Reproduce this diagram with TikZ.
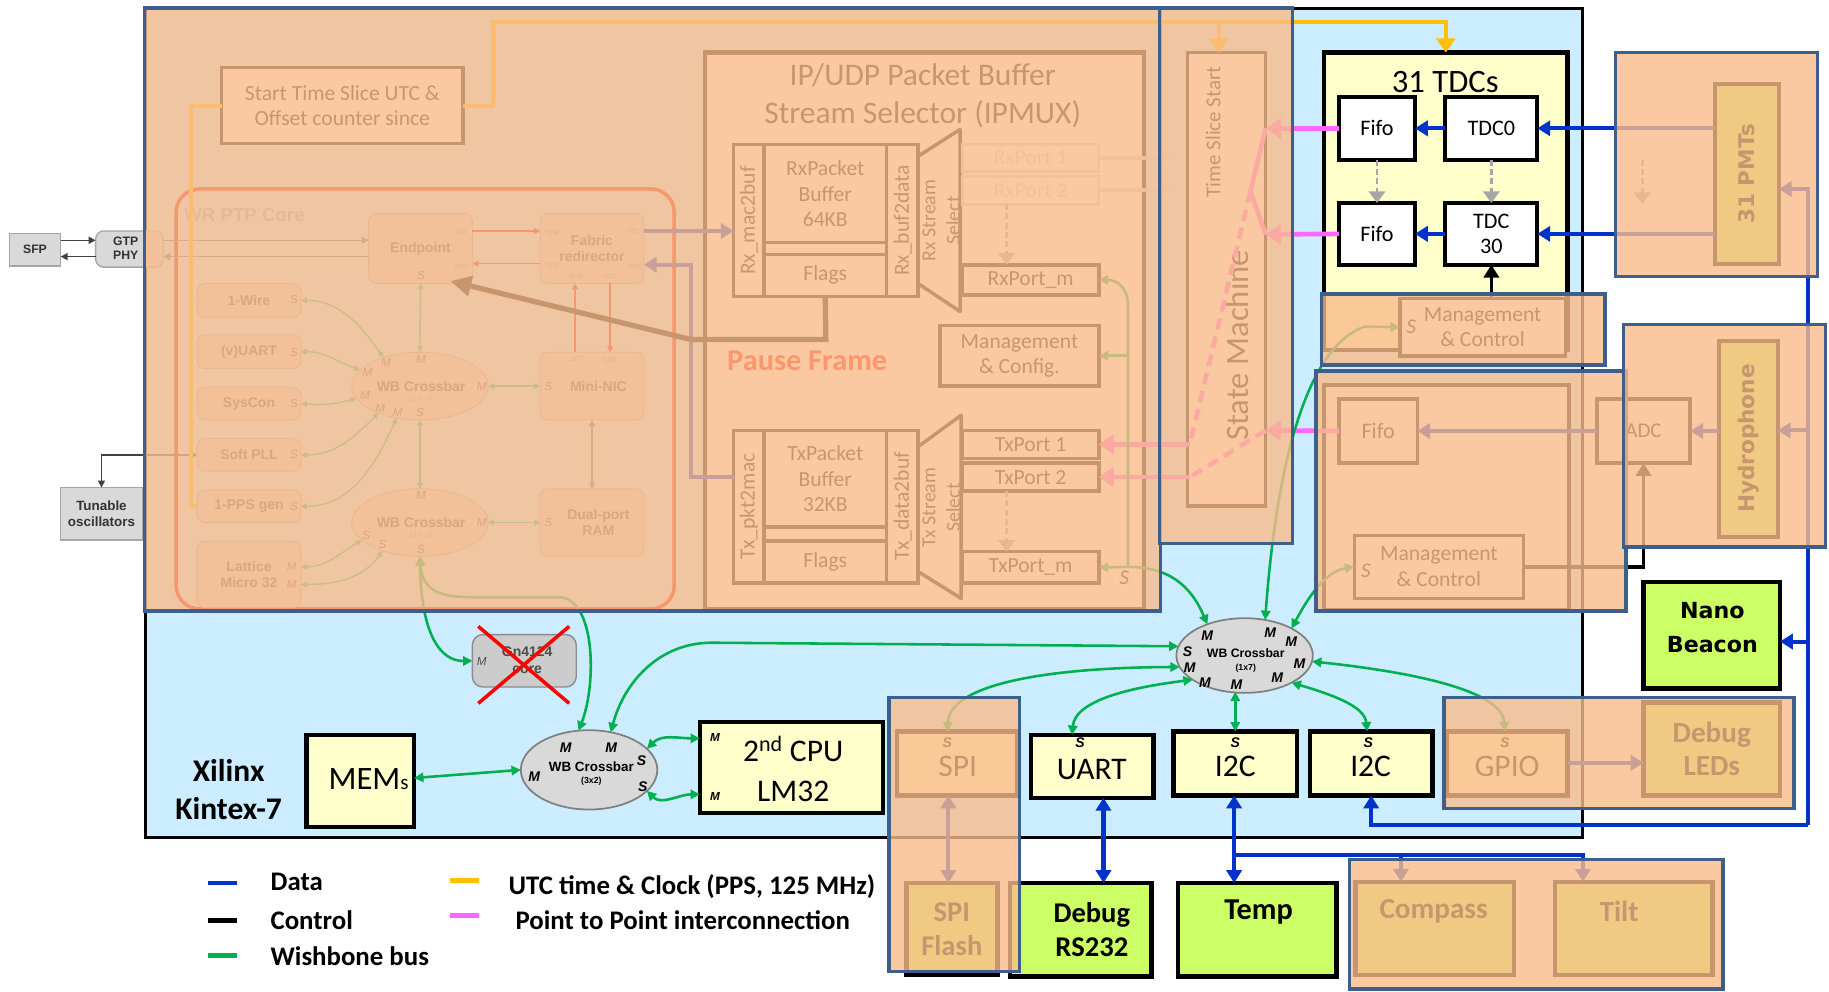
\documentclass[tikz,border=0pt]{standalone}
\usepackage{fontspec}
\setmainfont{Carlito}
\newfontfamily\arl{Liberation Sans}
\newfontfamily\dvs{DejaVu Sans}
\usetikzlibrary{arrows.meta,calc,shapes.geometric}
\definecolor{kinblue}{RGB}{204,236,255}
\definecolor{ov}{RGB}{250,188,138}
\definecolor{ovb}{RGB}{62,95,140}
\definecolor{yel}{RGB}{255,255,204}
\definecolor{grn}{RGB}{204,255,102}
\definecolor{dblue}{RGB}{0,51,204}
\definecolor{wbg}{RGB}{0,176,80}
\definecolor{utc}{RGB}{255,192,0}
\definecolor{mag}{RGB}{255,102,255}
\definecolor{lgray}{RGB}{217,217,217}
\definecolor{mgray}{RGB}{166,166,166}
\definecolor{wrbox}{RGB}{212,214,216}
\definecolor{wrline}{RGB}{170,170,170}
\definecolor{wrtext}{RGB}{85,85,85}
\definecolor{wrtitle}{RGB}{150,175,200}
\definecolor{wrred}{RGB}{240,0,0}
\definecolor{wrgreen}{RGB}{20,190,130}
\definecolor{faint}{RGB}{215,215,215}
\newcommand\fsz[2]{\fontsize{#1}{#2}\selectfont}
\newcommand\rbox[7]{\node[#2,anchor=north west,minimum width={(#5)-(#3)},minimum height={(#6)-(#4)}] (#1) at (#3,#4) {#7};}
\begin{document}
\begin{tikzpicture}[x=1pt,y=-1pt,
  every node/.style={inner sep=0pt,outer sep=0pt},
  wbx/.style={draw=black,line width=3pt,fill=white},
  ybx/.style={draw=black,line width=3.5pt,fill=yel},
  gbx/.style={draw=black,line width=3.5pt,fill=grn},
  gry/.style={fill=lgray,draw=mgray,line width=1.2pt,font=\arl\bfseries\fsz{10.5}{12},text=black!80,align=center},
  ovl/.style={fill=ov,fill opacity=0.8,draw=ovb,line width=3pt,draw opacity=1},
  wrb/.style={draw=wrline,fill=wrbox,rounded corners=7pt,line width=0.8pt,font=\arl\bfseries\fsz{12}{14},text=wrtext,align=center},
  wrl/.style={font=\arl\itshape\fsz{10}{10},text=wrtext},
  wrs/.style={font=\arl\itshape\fsz{8}{8},text=black!40},
  wrg/.style={draw=wrgreen,line width=1.2pt,{Triangle[length=5pt,width=5pt]}-{Triangle[length=5pt,width=5pt]}},
  wrr/.style={draw=wrred,line width=1pt,-{Triangle[length=5pt,width=5pt]}},
  thinar/.style={draw=black!75,line width=1.3pt,-{Triangle[length=6pt,width=6pt]}},
  dat/.style={draw=dblue,line width=3.5pt,-{Triangle[length=11pt,width=13pt]}},
  datd/.style={draw=dblue,line width=3.5pt,{Triangle[length=11pt,width=13pt]}-{Triangle[length=11pt,width=13pt]}},
  ctl/.style={draw=black,line width=3pt,-{Triangle[length=11pt,width=13pt]}},
  utcl/.style={draw=utc,line width=3.5pt,-{Triangle[length=12pt,width=16pt]}},
  p2p/.style={draw=mag,line width=4pt,-{Triangle[length=13pt,width=17pt]}},
  wbl/.style={draw=wbg,line width=2.2pt,{Triangle[length=8pt,width=8pt]}-{Triangle[length=8pt,width=8pt]}},
  gdash/.style={draw=mgray,line width=2.5pt,dash pattern=on 5pt off 3pt,-{Triangle[length=10pt,width=14pt]}},
  lab/.style={font=\arl\bfseries\itshape\fsz{12}{12}},
  txt/.style={font=\fsz{18.5}{22},align=center},
  big/.style={font=\fsz{27}{27}}
]
\useasboundingbox (0,0) rectangle (1568,850);
\fill[white] (0,0) rectangle (1568,850);

% ---------------- Kintex
\rbox{kin}{draw=black,line width=2.5pt,fill=kinblue}{125}{7}{1357}{718}{}

% ---------------- outside left
\rbox{sfp}{gry}{8}{200}{52}{228}{SFP}
\rbox{gtp}{gry,rounded corners=7pt}{82}{198}{140}{229}{}
\node[font=\arl\bfseries\fsz{10.5}{12},text=black!80,align=left,anchor=west] (gtpt) at (97,213) {GTP\\PHY};
\rbox{tun}{gry,font=\arl\bfseries\fsz{11.5}{14}}{52}{418}{122}{463}{Tunable\\oscillators}
\draw[thinar] (sfp.east |- 0,206) -- (gtp.west |- 0,206);
\draw[thinar] (gtp.west |- 0,220) -- (sfp.east |- 0,220);

% ---------------- WR PTP core (under overlay)
\rbox{wrcore}{draw=wrred,line width=3pt,rounded corners=20pt}{151}{162}{578}{522}{}
\node[font=\arl\bfseries\fsz{16}{16},text=wrtitle,anchor=west] (wrtit) at (158,184) {WR PTP Core};
\rbox{endp}{wrb}{316}{183}{405}{243}{Endpoint}
\rbox{fab}{wrb}{463}{183}{552}{243}{Fabric\\redirector}
\rbox{wire}{wrb}{169}{243}{258}{272}{1-Wire}
\rbox{vuart}{wrb}{169}{287}{258}{316}{(v)UART}
\rbox{syscon}{wrb}{169}{332}{258}{360}{SysCon}
\rbox{softpll}{wrb}{169}{376}{258}{404}{Soft PLL}
\rbox{pps}{wrb}{169}{420}{258}{448}{1-PPS gen}
\rbox{lm}{wrb}{169}{464}{258}{521}{Lattice\\Micro 32}
\rbox{mnic}{wrb}{463}{302}{552}{360}{}
\rbox{dpram}{wrb}{463}{419}{552}{477}{}
\node[font=\arl\bfseries\fsz{12}{14},text=wrtext,align=center] (mnict) at (513,331) {Mini-NIC};
\node[font=\arl\bfseries\fsz{12}{14},text=wrtext,align=center] (dpt) at (513,448) {Dual-port\\RAM};
\node[wrb,ellipse,rounded corners=0pt,minimum width=117,minimum height=58] (wb1) at (360,331) {};
\node[wrb,ellipse,rounded corners=0pt,minimum width=117,minimum height=58] (wb2) at (360,448) {};
\node[font=\arl\bfseries\fsz{12}{12},text=wrtext] (wb1t) at (361,331) {WB Crossbar};
\node[font=\arl\fsz{7}{7},text=black!40] (wb1s) at (361,342) {(1 x 7)};
\node[font=\arl\bfseries\fsz{12}{12},text=wrtext] (wb2t) at (361,448) {WB Crossbar};
\node[font=\arl\fsz{7}{7},text=black!40] (wb2s) at (361,459) {(3 x 2)};
\foreach \px/\py/\t [count=\i] in {331/311/M,361/308/M,315/319/M,313/339/M,326/350/M,341/354/M,360/354/S,413/331/M,
  361/425/M,314/459/S,328/467/S,361/471/S,413/448/M,361/236/S,470/331/S,470/448/S,
  252/257/S,252/302/S,252/346/S,252/390/S,252/434/S,250/486/M,250/501/M}
  \node[wrl] (wrlab\i) at (\px,\py) {\t};
\foreach \px/\py/\t [count=\i] in {396/199/src,396/228/snk,474/199/snk,543/198/src,473/228/src,544/228/snk,494/237/snk,523/237/src,494/308/src,523/308/snk}
  \node[wrs] (wrsl\i) at (\px,\py) {\t};
\draw[wrg] (endp.south) -- (wb1.north);
\draw[wrg] (wb1.south) -- (wb2.north);
\draw[wrg] (wb1.east) -- (mnic.west);
\draw[wrg] (wb2.east) -- (dpram.west);
\draw[wrg] (wire.east) to[out=0,in=125] (wb1.142);
\draw[wrg] (vuart.east) to[out=0,in=160] (wb1.165);
\draw[wrg] (syscon.east) to[out=-5,in=195] (wb1.191);
\draw[wrg] (softpll.east) to[out=0,in=225] (wb1.213);
\draw[wrg] (pps.east) to[out=0,in=245] (wb1.234);
\draw[wrg] (lm.east |- 0,486) to[out=0,in=210] (wb2.197);
\draw[wrg] (lm.east |- 0,501) to[out=0,in=235] (wb2.217);
\draw[wrr] (endp.east |- 0,198) -- (fab.west |- 0,198);
\draw[wrr] (fab.west |- 0,226) -- (endp.east |- 0,226);
\draw[wrr] (mnic.north -| 493,0) -- (fab.south -| 493,0);
\draw[wrr] (fab.south -| 523,0) -- (mnic.north -| 523,0);
\draw[draw=black!60,line width=1.2pt,{Triangle[length=5pt,width=5pt]}-{Triangle[length=5pt,width=5pt]}] (mnic.south) -- (dpram.north);
\draw[draw=black!60,line width=1.2pt,-{Triangle[length=6pt,width=6pt]}] (gtp.east |- 0,206) -- (endp.west |- 0,206);
\draw[draw=black!60,line width=1.2pt,-{Triangle[length=6pt,width=6pt]}] (endp.west |- 0,220) -- (gtp.east |- 0,220);
\draw[thinar,{Triangle[length=6pt,width=6pt]}-{Triangle[length=6pt,width=6pt]}] (softpll.west) -| (tun.north);

% ---------------- start time slice
\rbox{stsl}{wbx,txt}{190}{58}{397}{123}{Start Time Slice UTC \&\\Offset counter since}

% ---------------- IPMUX
\rbox{ipmux}{wbx,line width=3.5pt}{604}{45}{981}{522}{}
\node[font=\fsz{27}{32},align=center] (ipt) at (791,82) {IP/UDP Packet Buffer\\Stream Selector (IPMUX)};
\rbox{rxm}{wbx}{629}{124}{655}{254}{}
\rbox{rxbuf}{wbx,txt}{655}{124}{760}{208}{RxPacket\\Buffer\\64KB}
\rbox{rxstr}{wbx}{655}{208}{760}{218}{}
\rbox{rxflags}{wbx,txt}{655}{218}{760}{254}{Flags}
\rbox{rxb2d}{wbx}{760}{124}{787}{254}{}
\node[rotate=90,font=\fsz{18.5}{18.5}] (rxmt) at (642,189) {Rx\_mac2buf};
\node[rotate=90,font=\fsz{18.5}{18.5}] (rxb2dt) at (774,189) {Rx\_buf2data};
\draw[wbx,line join=round] (787,134) -- (823,111) -- (823,267) -- (787,243) -- cycle;
\node[rotate=90,font=\fsz{17}{21},align=center] (rxselt) at (807,189) {Rx Stream\\Select};
\rbox{rxp1}{draw=faint,line width=2.5pt,fill=white,font=\fsz{18.5}{18.5},text=faint}{825}{124}{942}{147}{RxPort 1}
\rbox{rxp2}{draw=faint,line width=2.5pt,fill=white,font=\fsz{18.5}{18.5},text=faint}{825}{151}{942}{175}{RxPort 2}
\draw[draw=faint,line width=3pt,-{Triangle[length=8pt,width=10pt]}] (rxp1.east) -- (1004,135.5);
\draw[draw=faint,line width=3pt,-{Triangle[length=8pt,width=10pt]}] (rxp2.east) -- (1004,163);
\rbox{rxpm}{wbx,txt}{825}{227}{942}{253}{RxPort\_m}
\draw[gdash] (rxp2.south -| 863,0) -- (rxpm.north -| 863,0);
\rbox{mcfg}{wbx,txt}{806}{279}{942}{331}{Management\\\& Config.}

\rbox{txm}{wbx}{629}{369}{655}{500}{}
\rbox{txbuf}{wbx,txt}{655}{369}{760}{452}{TxPacket\\Buffer\\32KB}
\rbox{txstr}{wbx}{655}{452}{760}{464}{}
\rbox{txflags}{wbx,txt}{655}{464}{760}{500}{Flags}
\rbox{txd2b}{wbx}{760}{369}{787}{500}{}
\node[rotate=90,font=\fsz{18.5}{18.5}] (txmt) at (642,434) {Tx\_pkt2mac};
\node[rotate=90,font=\fsz{18.5}{18.5}] (txd2bt) at (774,434) {Tx\_data2buf};
\draw[wbx,line join=round] (787,383) -- (824,356) -- (824,513) -- (787,490) -- cycle;
\node[rotate=90,font=\fsz{17}{21},align=center] (txselt) at (807,435) {Tx Stream\\Select};
\rbox{txp1}{wbx,txt}{825}{369}{942}{393}{TxPort 1}
\rbox{txp2}{wbx,txt}{825}{397}{942}{421}{TxPort 2}
\rbox{txpm}{wbx,txt}{825}{473}{942}{500}{TxPort\_m}
\draw[gdash] (txp2.south -| 863,0) -- (txpm.north -| 863,0);

% data lines fabric <-> ipmux
\draw[dat] (fab.east |- 0,198) -- (rxm.west |- 0,198);
\draw[dat] (txm.west |- 0,409) -- (592,409) -- (592,227) -- (fab.east |- 0,227);
% pause frame
\draw[draw=black,line width=4.5pt,-{Triangle[length=18pt,width=17pt]}] (rxflags.south) -- (708,291) -- (592,291) -- (386,241);
\node[font=\bfseries\fsz{26}{26},text=red] (pause) at (692,309) {Pause Frame};

% ---------------- state machine
\rbox{sm}{wbx}{1018}{45}{1085}{434}{}
\node[rotate=90,font=\fsz{18}{18}] (tss) at (1040,113) {Time Slice Start};
\node[rotate=90,font=\fsz{28}{28}] (smt) at (1061,296) {State Machine};

% ---------------- TDCs
\rbox{tdcbox}{ybx,line width=4pt}{1135}{45}{1344}{300}{}
\node[font=\fsz{28}{28}] (tdct) at (1239,70) {31 TDCs};
\rbox{fifo1}{wbx,line width=3.5pt,font=\fsz{19}{19}}{1148}{83}{1213}{137}{Fifo}
\rbox{tdc0}{wbx,line width=3.5pt,font=\fsz{19}{19}}{1239}{83}{1318}{137}{TDC0}
\rbox{fifo2}{wbx,line width=3.5pt,font=\fsz{19}{19}}{1148}{174}{1213}{227}{Fifo}
\rbox{tdc30}{wbx,line width=3.5pt,font=\fsz{19}{22},align=center}{1239}{174}{1318}{227}{TDC\\30}
\draw[dat] (tdc0.west) -- (fifo1.east);
\draw[dat] (tdc30.west) -- (fifo2.east);
\draw[gdash] (fifo1.south) -- (fifo2.north);
\draw[gdash] (tdc0.south) -- (tdc30.north);

% ---------------- TDC management
\rbox{tmgmt}{wbx,txt}{1200}{256}{1342}{305}{Management\\\& Control}
\node[font=\itshape\fsz{18}{18}] (tmgs) at (1210,280) {S};
\draw[ctl] (tmgmt.north -| tdc30.south) -- (tdc30.south);

% ---------------- hydrophone area
\rbox{hin}{wbx}{1135}{330}{1345}{523}{}
\rbox{hfifo}{wbx,font=\fsz{19}{19}}{1148}{342}{1215}{397}{Fifo}
\rbox{adc}{wbx,font=\fsz{18}{18}}{1369}{342}{1449}{397}{ADC}
\rbox{hmgmt}{wbx,txt}{1161}{459}{1306}{513}{Management\\\& Control}
\node[font=\itshape\fsz{18}{18}] (hmgs) at (1171,489) {S};
\draw[dat] (adc.west) -- (hfifo.east);
\draw[ctl] (hmgmt.east) -| (adc.south);

% ---------------- PMTs / hydrophone
\rbox{pmt}{gbx}{1470}{72}{1525}{226}{}
\node[rotate=90,font=\dvs\bfseries\fsz{18.5}{18.5}] (pmtt) at (1497,149) {31 PMTs};
\draw[gdash] (1408,137) -- (1408,175);
\rbox{hyd}{gbx}{1474}{292}{1524}{460}{}
\node[rotate=90,font=\dvs\bfseries\fsz{18.5}{18.5}] (hydt) at (1499,376) {Hydrophone};
\draw[dat] (pmt.west |- tdc0) -- (tdc0.east);
\draw[dat] (pmt.west |- tdc30) -- (tdc30.east);
\draw[dat] (hyd.west |- adc) -- (adc.east);

% ---------------- Nano beacon
\rbox{nano}{gbx,line width=4pt}{1409}{499}{1526}{590}{}
\node[font=\dvs\bfseries\fsz{19}{29},align=center] (nanot) at (1468,538) {Nano\\Beacon};

% right blue bus
\coordinate (rb) at (1550,707);
\coordinate (rt) at (1550,162);
\draw[dat] (rb) -- (rt) -- (pmt.east |- rt);
\draw[dat] (1550,369) -- (hyd.east |- 0,369);
\draw[dat] (1550,550) -- (nano.east |- 0,550);

% ---------------- P2P lines
\draw[p2p] (fifo1.west) -- (1085,110);
\draw[p2p] (fifo2.west) -- (1085,201);
\draw[draw=mag,line width=4pt,line join=round] (1085,110) -- (1072,164) -- (1085,201);
\draw[draw=mag,line width=4pt,dash pattern=on 10pt off 6pt] (1072,164) -- (1020,381);
\draw[p2p] (1020,381) -- (txp1.east);
\draw[p2p] (hfifo.west) -- (1085,369);
\draw[draw=mag,line width=4pt,dash pattern=on 10pt off 6pt] (1085,369) -- (1020,409);
\draw[p2p] (1020,409) -- (txp2.east);

% ---------------- UTC
\draw[utcl] (stsl.east) -| (423,19) -| (tdcbox.north);
\draw[utcl] (1045,19) -- (sm.north -| 1045,0);
\draw[draw=utc,line width=3.5pt] (stsl.west) -| (164,434) -- (pps.west);

% ---------------- bottom row
\node[font=\bfseries\fsz{27}{33},align=center] (xil) at (196,677) {Xilinx\\Kintex-7};
\rbox{mems}{ybx,line width=4pt}{263}{630}{355}{709}{}
\node (memt) at (316,668) {\fsz{28}{28}MEM\fsz{18}{18}s};
\node[ellipse,fill=lgray,draw=black!50,line width=1.5pt,minimum width=117,minimum height=68] (wb3) at (505,660) {};
\node[font=\arl\bfseries\fsz{11.5}{11.5}] (wb3t) at (507,657) {WB Crossbar};
\node[font=\arl\bfseries\fsz{7.5}{7.5}] (wb3s) at (507,670) {(3x2)};
\foreach \px/\py/\t [count=\i] in {485/641/M,524/641/M,458/666/M,550/652/S,551/674/S}
  \node[lab] (wb3l\i) at (\px,\py) {\t};
\rbox{cpu}{ybx,line width=4pt}{600}{619}{757}{697}{}
\node[font=\fsz{27}{34},align=center] (cput) at (680,659) {2\textsuperscript{nd} CPU\\LM32};
\node[font=\arl\bfseries\itshape\fsz{10}{10}] (cpum1) at (613,632) {M};
\node[font=\arl\bfseries\itshape\fsz{10}{10}] (cpum2) at (613,683) {M};
\rbox{gn}{fill=black!20,draw=black!45,line width=1.2pt,rounded corners=9pt}{405}{544}{494}{589}{}
\node[font=\arl\bfseries\fsz{12}{15},text=black!70,align=center] (gnt) at (452,566) {Gn4124\\core};
\node[font=\arl\itshape\fsz{10}{10},text=black!70] (gnm) at (413,567) {M};
\draw[red,line width=3pt] (410,537) -- (488,603);
\draw[red,line width=3pt] (488,537) -- (410,603);

\node[ellipse,fill=lgray,draw=black!50,line width=1.5pt,minimum width=117,minimum height=64] (wb7) at (1067,562) {};
\node[font=\arl\bfseries\fsz{10.5}{10.5}] (wb7t) at (1068,560) {WB Crossbar};
\node[font=\arl\bfseries\fsz{7.5}{7.5}] (wb7s) at (1068,573) {(1x7)};
\foreach \px/\py/\t [count=\i] in {1035/545/M,1089/542/M,1107/550/M,1018/559/S,1020/572/M,1114/569/M,1033/585/M,1060/587/M,1095/581/M}
  \node[lab] (wb7l\i) at (\px,\py) {\t};

\rbox{uart}{ybx,line width=4pt}{884}{630}{989}{684}{}
\node[big] (uartt) at (936,660) {UART};
\node[lab] (uarts) at (926,637) {S};
\rbox{i2ca}{ybx,line width=4pt}{1006}{627}{1112}{682}{}
\node[big] (i2cat) at (1059,657) {I2C};
\node[lab] (i2cas) at (1059,637) {S};
\rbox{i2cb}{ybx,line width=4pt}{1123}{627}{1228}{682}{}
\node[big] (i2cbt) at (1175,657) {I2C};
\node[lab] (i2cbs) at (1173,637) {S};
\rbox{dbg}{gbx,line width=4pt}{866}{757}{987}{837}{}
\node[font=\bfseries\fsz{24.5}{29},align=center] (dbgt) at (936,797) {Debug\\RS232};
\rbox{temp}{gbx,line width=4pt}{1010}{757}{1146}{837}{}
\node[font=\bfseries\fsz{26}{26}] (tempt) at (1079,782) {Temp};

% SPI / GPIO / compass contents (under overlays)
\rbox{spi}{ybx,line width=4pt}{769}{627}{872}{682}{}
\node[big] (spit) at (821,657) {SPI};
\node[lab] (spis) at (812,637) {S};
\rbox{flash}{gbx,line width=4pt,font=\bfseries\fsz{24.5}{29},align=center}{777}{757}{855}{836}{SPI\\Flash}
\rbox{gpio}{ybx,line width=4pt}{1240}{627}{1344}{682}{}
\node[big] (gpiot) at (1292,657) {GPIO};
\node[lab] (gpios) at (1290,637) {S};
\rbox{leds}{gbx,line width=4pt,font=\bfseries\fsz{25}{29},align=center}{1409}{602}{1526}{682}{Debug\\LEDs}
\rbox{comp}{gbx,line width=4pt}{1162}{756}{1298}{836}{}
\node[font=\bfseries\fsz{25}{25}] (compt) at (1229,781) {Compass};
\rbox{tilt}{gbx,line width=4pt}{1333}{756}{1468}{836}{}
\node[font=\bfseries\fsz{25}{25}] (tiltt) at (1388,781) {Tilt};

% blue data at bottom
\draw[datd] (uart.south -| 946,0) -- (dbg.north -| 946,0);
\draw[datd] (i2ca.south -| 1058,0) -- (temp.north -| 1058,0);
\draw[dat] (1058,733) -| (tilt.north -| 1357,0);
\draw[dat] (1201,733) -- (comp.north -| 1201,0);
\draw[dat] (rb) -| (i2cb.south);
\draw[datd] (spi.south -| 813,0) -- (flash.north -| 813,0);
\draw[dat] (gpio.east |- 0,654) -- (leds.west |- 0,654);

% wishbone
\draw[wbl] (mems.east |- 0,667) -- (wb3.west);
\draw[wbl] (cpu.west |- 0,633) to[out=180,in=45] (wb3.20);
\draw[wbl] (cpu.west |- 0,681) to[out=180,in=-45] (wb3.-20);
\draw[wbl] (wb2.south) .. controls (361,545) and (378,567) .. (gn.west);
\draw[wbl] (wb2.south) .. controls (362,508) and (380,512) .. (405,512) -- (479,512) .. controls (510,512) and (512,585) .. (wb3.105);
\draw[wbl] (wb3.60) .. controls (535,585) and (565,551) .. (610,551) -- (wb7.172);
\draw[wbl] (wb7.140) .. controls (1020,500) and (1000,486) .. (967,486) -- (txpm.east);
\draw[draw=wbg,line width=2.2pt,-{Triangle[length=8pt,width=8pt]}] (967,486) -- (967,262) .. controls (967,247) and (958,240) .. (rxpm.east);
\draw[draw=wbg,line width=2.2pt,-{Triangle[length=8pt,width=8pt]}] (967,305) -- (mcfg.east);
\node[font=\itshape\fsz{18}{18}] (ipms) at (964,495) {S};
\draw[wbl] (wb7.60) .. controls (1092,430) and (1112,300) .. (1170,280) -- (tmgmt.west);
\draw[wbl] (wb7.30) .. controls (1120,515) and (1135,490) .. (hmgmt.west);
\draw[wbl] (wb7.190) .. controls (930,572) and (815,580) .. (spi.north -| 812,0);
\draw[wbl] (wb7.205) .. controls (980,588) and (922,598) .. (uart.north -| 919,0);
\draw[wbl] (i2ca.north) -- (i2ca.north |- 0,593);
\draw[wbl] (wb7.-30) .. controls (1140,595) and (1170,605) .. (i2cb.north -| 1172,0);
\draw[wbl] (wb7.-5) .. controls (1200,575) and (1288,590) .. (gpio.north -| 1290,0);

% ---------------- overlays
\rbox{ovA}{ovl}{124}{7}{995}{524}{}
\rbox{ovSM}{ovl}{994}{7}{1108}{466}{}
\rbox{ovTM}{ovl}{1133}{252}{1376}{313}{}
\rbox{ovH}{ovl}{1128}{318}{1394}{524}{}
\rbox{ovP}{ovl}{1385}{45}{1558}{237}{}
\rbox{ovHy}{ovl}{1392}{278}{1565}{469}{}
\rbox{ovS}{ovl}{762}{598}{874}{833}{}
\rbox{ovG}{ovl}{1238}{598}{1538}{693}{}
\rbox{ovC}{ovl}{1157}{737}{1477}{848}{}

% ---------------- legend
\draw[dblue,line width=4pt] (178,757) -- (203,757) coordinate (lg1);
\draw[black,line width=4pt] (178,789) -- (203,789) coordinate (lg2);
\draw[wbg,line width=4pt] (178,819) -- (203,819) coordinate (lg3);
\draw[utc,line width=4pt] (386,755) -- (411,755) coordinate (lg4);
\draw[mag,line width=4pt] (386,785) -- (411,785) coordinate (lg5);
\node[font=\bfseries\fsz{23}{23},anchor=west] (lt1) at (232,756) {Data};
\node[font=\bfseries\fsz{23}{23},anchor=west] (lt2) at (232,789) {Control};
\node[font=\bfseries\fsz{23}{23},anchor=west] (lt3) at (232,820) {Wishbone bus};
\node[font=\bfseries\fsz{23}{23},anchor=west] (lt4) at (436,760) {UTC time \& Clock (PPS, 125 MHz)};
\node[font=\bfseries\fsz{23}{23},anchor=west] (lt5) at (442,789) {Point to Point interconnection};
\end{tikzpicture}
\end{document}
